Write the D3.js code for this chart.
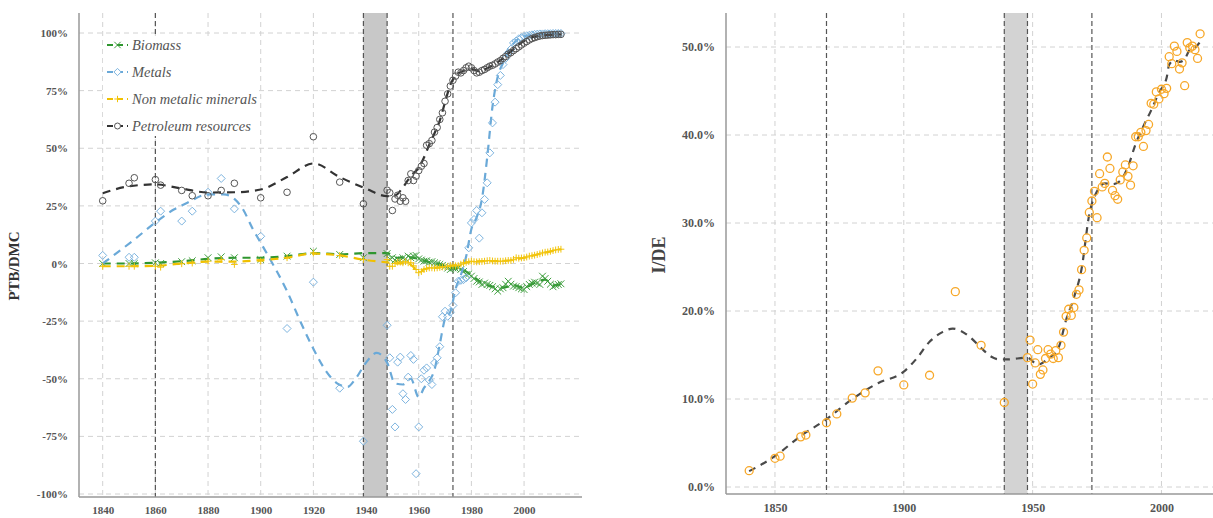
<!DOCTYPE html>
<html>
<head>
<meta charset="utf-8">
<script src="https://cdn.jsdelivr.net/npm/d3@7"></script>
<style>
  body { margin: 0; background: #fff; }
  text { font-family: "Liberation Serif", "DejaVu Serif", serif; }
</style>
</head>
<body>
<svg id="chart" width="1213" height="518"></svg>
<script>
// ---- data: left panel (PTB/DMC, %) ----
const yearsL = [1840,1850,1852,1860,1862,1870,1874,1880,1885,1890,1900,1910,1920,1930,1939,
  1948,1949,1950,1951,1952,1953,1954,1955,1956,1957,1958,1959,1960,1961,1962,1963,1964,1965,1966,1967,
  1968,1969,1970,1971,1972,1973,1974,1975,1976,1977,1978,1979,1980,1981,1982,1983,1984,1985,1986,1987,
  1988,1989,1990,1991,1992,1993,1994,1995,1996,1997,1998,1999,2000,2001,2002,2003,2004,2005,2006,2007,
  2008,2009,2010,2011,2012,2013,2014];

const biomass = [0,0,0,0.3,0,0.8,1.2,2.5,2.9,2.5,1.7,3.2,5.3,3.9,2.5,
  4.3,2,2.5,1.5,1.7,1.2,2.5,2,3.2,2.5,
  3.2,3.5,2,1.5,1,1.2,0.6,0.8,0.3,0,
  -0.4,-0.8,-1.2,-2,-2.6,-1.9,-2.2,-1.9,-2.6,-3.5,
  -4.8,-4.5,-5.5,-6.5,-7.7,-8,-9.1,-8.5,-9.1,-9.5,
  -10.1,-11,-12,-11,-10.5,-9,-7.7,-9,-9.8,-10,
  -10.5,-11,-11.3,-10,-9.1,-8.5,-8.1,-8.5,-9.1,-5.5,
  -6.5,-7.7,-9,-10.1,-9.5,-9.1,-8.8];

const metals = [3.5,2.7,2.7,18.4,22.7,18.4,22.7,30.9,36.9,23.7,11.8,-28.2,-8.1,-54.1,-77.1,
  -26.8,-40.9,-63.3,-70.9,-42.8,-40.6,-56.5,-59,-49.3,-39.9,
  -41.6,-91.2,-70.9,-50,-46.3,-45.3,-50.6,-52.5,-43.1,-40.9,
  -36.1,-23.1,-20.7,-22.9,-21.1,-18.2,-12.7,-7.7,-7.3,-7,
  -6.2,6.8,17.6,19.1,23,11,22,27.8,35,48,
  61,70,77.6,81.6,86.3,89,91.4,93,95.7,96.5,
  97.5,98,98.5,98.8,99,99.2,99.4,99.5,99.6,99.6,
  99.7,99.7,99.7,99.8,99.8,99.8,99.8];

const nonMetallic = [-1.2,-1.2,-1.2,-1.2,-1.6,-0.1,0.2,1,1.7,-0.4,1,2.5,4.6,3.5,1.7,
  1.7,-1.2,-1.2,0,0.6,0.6,0.3,0.8,0.3,0.3,
  -1,-2.6,-4,-3.5,-2.6,-2.2,-1.9,-1.9,-2,-1.9,
  -1.7,-1.5,-1.4,-1.2,-0.9,-0.9,-1,-0.9,-0.3,0.3,
  0.5,0.8,1,0.8,0.7,0.8,0.9,1,1.2,1.3,
  1.1,1,1,1,1,1.2,1.3,1.3,1.8,2.5,
  2.3,2.4,2.5,2.8,3.2,3.4,3.6,3.9,4.2,4.6,
  4.9,5,5.3,5.6,5.9,6.1,6.2];

const petroleum = [27.2,34.8,37.2,36.4,34,31.7,29.4,29.4,31.7,34.8,28.5,30.9,55,35.3,25.9,
  31.8,30.7,23,28,29.6,27,28.5,27,36,38.9,
  36,37.9,40.3,42.2,43.4,51.3,52,53.4,57,59,
  62.5,65.4,70.4,73.6,77,79.5,81.3,83,82.7,83.7,
  84.9,85.6,84.9,83.7,82.7,83,83.7,84.2,84.9,85.6,
  86,86.6,87.4,88,89,89.8,90.8,91.5,92.4,93.2,
  94,94.8,95.6,96.3,97,97.6,98,98.4,98.7,98.9,
  99,99.1,99.2,99.3,99.3,99.4,99.4];

// smoothed trend lines
const biomassTrendYears = [1840,1850,1860,1870,1880,1890,1900,1910,1920,1930,1940,1948,1952,1956,1960,1964,1968,1972,1976,1980,1984,1988,1992,1996,2000,2004,2008,2011,2014];
const biomassTrend = [0,0,0.3,1,2,2.5,2.5,3.2,4.5,4,4.5,4.5,2.5,2.8,2,0.6,-0.4,-2,-2.5,-5,-8.5,-10,-10.5,-9.5,-10.5,-8.5,-7,-9.5,-9];

const metalsTrendYears = [1840,1852,1860,1867,1872,1880,1886,1890,1893,1897,1900,1903,1910,1915,1920,1925,1929,1933,1936,1940,1944,1948,1951,1954,1957,1960,1962,1964,1966,1968,1970,1972,1974,1976,1978,1980,1982,1984,1986,1988,1990,1992,1994,1996,1998,2001,2005,2010,2014];
const metalsTrend = [0,10.4,17.8,23.4,26.3,30,30,28,24,15,9,3,-12,-25,-37,-47,-52,-53.5,-50,-43,-38.8,-43,-52,-52.5,-50,-58,-54,-51,-46,-35,-24,-21,-11,-5,3,15,20,28,46,68,81,87,92,95.5,97.5,98.8,99.5,99.7,99.8];

const nonMetallicTrendYears = [1840,1850,1860,1870,1880,1890,1900,1910,1920,1930,1940,1948,1952,1956,1960,1964,1968,1972,1976,1980,1985,1990,1995,2000,2005,2010,2014];
const nonMetallicTrend = [-1.2,-1.2,-1,0,0.8,0.8,1.5,2.5,4.3,3.5,1.5,0.5,0,0,-3,-2,-1.7,-1,-0.3,0.8,1,1,1.4,2.5,3.9,5.2,6.2];

const petroleumTrendYears = [1840,1850,1860,1870,1880,1890,1900,1910,1920,1930,1940,1948,1951,1954,1957,1960,1962,1964,1966,1968,1970,1972,1974,1977,1980,1983,1986,1989,1992,1995,1998,2001,2004,2007,2010,2014];
const petroleumTrend = [30.5,33.5,34.3,32.5,30.8,30.9,32.1,37.5,43.4,37.5,32.5,29.2,29.5,33,38,41.5,46,51.5,56.5,62,70,77.5,81.5,83.5,84.3,83.5,84.7,86.6,89,92,95,97.2,98.4,99,99.2,99.4];

// ---- data: right panel (I/DE, %) ----
const yearsR = [1840,1850,1852,1860,1862,1870,1874,1880,1885,1890,1900,1910,1920,1930,1939,
  1948,1949,1950,1951,1952,1953,1954,1955,1956,1957,1958,1959,1960,1961,1962,1963,1964,1965,1966,1967,
  1968,1969,1970,1971,1972,1973,1974,1975,1976,1977,1978,1979,1980,1981,1982,1983,1984,1985,1986,1987,
  1988,1989,1990,1991,1992,1993,1994,1995,1996,1997,1998,1999,2000,2001,2002,2003,2004,2005,2006,2007,
  2008,2009,2010,2011,2012,2013,2014,2015];
const ide = [1.85,3.26,3.5,5.7,5.9,7.3,8.3,10.1,10.7,13.2,11.6,12.7,22.2,16.1,9.6,
  14.7,16.7,11.7,14.1,15.6,12.8,13.3,14.6,15.6,15.1,
  14.6,15.5,14.7,16.1,17.6,19.4,20.2,19.5,20.4,21.9,
  22.4,24.7,26.9,28.3,31.2,32.5,33.6,30.6,35.6,34.1,
  34.5,37.5,36.2,33.7,33.1,32.7,34.9,35.8,36.6,35.3,
  34.3,36.5,39.8,39.8,40.3,38.7,40.5,41.2,43.6,43.5,
  44.9,44.1,45.2,44.7,45.3,48.9,48.1,50.1,49.5,47.5,
  48.2,45.6,50.5,49.9,50.1,49.7,48.7,51.5];
const ideTrendYears = [1840,1850,1860,1870,1880,1890,1900,1905,1910,1915,1919,1925,1930,1934,1937,1940,1948,1952,1956,1960,1963,1966,1969,1972,1975,1978,1981,1984,1987,1990,1993,1996,1999,2002,2003,2005,2007,2009,2011,2013,2015];
const ideTrend = [1.8,3.5,5.8,7.7,10,11.8,13.1,14.6,16.5,17.6,18,17.2,15.8,14.8,14.5,14.5,14.7,13.9,14.6,15.8,19,21.5,24.8,31,33.6,34.5,34.4,34.8,36.4,39,41,42.8,44.8,46.5,48,48.5,48.3,48.6,49.7,49.9,50.6];

// axis ticks and annotations
const ticksYL = [-100,-75,-50,-25,0,25,50,75,100];
const ticksXL = [1840,1860,1880,1900,1920,1940,1960,1980,2000];
const ticksYR = [0,10,20,30,40,50];
const ticksXR = [1850,1900,1950,2000];
const warYears = [1939, 1948];
const markLinesL = [1860, 1973];
const markLinesR = [1870, 1973];

// ---- drawing ----
const svg = d3.select("#chart");

const xL = d3.scaleLinear().domain([1831, 2022]).range([79, 582]);
const yL = d3.scaleLinear().domain([-100, 100]).range([494, 33]);
const xR = d3.scaleLinear().domain([1831, 2020]).range([726, 1213]);
const yR = d3.scaleLinear().domain([0, 50]).range([487, 47]);

const gridCol = "#d2d2d2", darkCol = "#555";

function panelFrame(g, x, y, top, bottom, right, xt, yt) {
  // light grid
  g.selectAll(".hg").data(yt).enter().append("line")
    .attr("x1", x.range()[0]).attr("x2", right)
    .attr("y1", d => y(d)).attr("y2", d => y(d))
    .attr("stroke", gridCol).attr("stroke-dasharray", "5,4");
  g.selectAll(".vg").data(xt).enter().append("line")
    .attr("x1", d => x(d)).attr("x2", d => x(d))
    .attr("y1", top).attr("y2", bottom)
    .attr("stroke", gridCol).attr("stroke-dasharray", "5,4");
}

function panelMarks(g, x, top, bottom, marks, shade) {
  g.append("rect")
    .attr("x", x(warYears[0])).attr("y", top)
    .attr("width", x(warYears[1]) - x(warYears[0])).attr("height", bottom - top)
    .attr("fill", shade);
  g.selectAll(".vd").data(marks.concat(warYears)).enter().append("line")
    .attr("x1", d => x(d)).attr("x2", d => x(d))
    .attr("y1", top).attr("y2", bottom)
    .attr("stroke", darkCol).attr("stroke-width", 1.2).attr("stroke-dasharray", "5,3");
}

function panelAxes(g, x, y, bottom, right, xt, yt, fmt, fs) {
  g.append("line").attr("x1", x.range()[0]).attr("x2", x.range()[0])
    .attr("y1", 13).attr("y2", bottom).attr("stroke", "#999").attr("stroke-width", 1.5);
  g.append("line").attr("x1", x.range()[0]).attr("x2", right)
    .attr("y1", bottom).attr("y2", bottom).attr("stroke", "#999").attr("stroke-width", 1.5);

  const ax = g.append("g").attr("transform", `translate(0,${bottom})`)
    .call(d3.axisBottom(x).tickValues(xt).tickSize(0).tickPadding(9).tickFormat(d3.format("d")));
  const ay = g.append("g").attr("transform", `translate(${x.range()[0]},0)`)
    .call(d3.axisLeft(y).tickValues(yt).tickSize(0).tickPadding(11).tickFormat(fmt));
  [ax, ay].forEach(a => {
    a.select(".domain").remove();
    a.selectAll("text")
      .style("font-family", '"Liberation Serif", serif')
      .style("font-weight", "bold").style("font-size", fs + "px").attr("fill", "#555");
  });
}

// symbol paths
const sym = {
  diamond: r => `M0,${-r}L${r},0L0,${r}L${-r},0Z`,
  cross: r => `M${-r},${-r}L${r},${r}M${-r},${r}L${r},${-r}`,
  plus: r => `M${-r},0L${r},0M0,${-r}L0,${r}`
};

// ===== left panel =====
const gL = svg.append("g");
panelFrame(gL, xL, yL, 13, 497, 582, ticksXL, ticksYL);
panelMarks(gL, xL, 13, 497, markLinesL, "#c8c8c8");
panelAxes(gL, xL, yL, 497, 582, ticksXL, ticksYL, d => d + "%", 11);

const seriesL = [
  { name: "Biomass", vals: biomass, ty: biomassTrendYears, tv: biomassTrend, line: "#2f962f", mark: "#3f9f3f", shape: "cross" },
  { name: "Metals", vals: metals, ty: metalsTrendYears, tv: metalsTrend, line: "#6aa9d8", mark: "#7db4df", shape: "diamond" },
  { name: "Non metalic minerals", vals: nonMetallic, ty: nonMetallicTrendYears, tv: nonMetallicTrend, line: "#f0c000", mark: "#f2c40c", shape: "plus" },
  { name: "Petroleum resources", vals: petroleum, ty: petroleumTrendYears, tv: petroleumTrend, line: "#333", mark: "#555", shape: "circle" }
];

const lineL = d3.line().x(d => xL(d[0])).y(d => yL(d[1])).curve(d3.curveMonotoneX);

function drawMarkers(g, s, x, y, years) {
  const pts = years.map((yr, i) => [yr, s.vals[i]]);
  if (s.shape === "circle") {
    g.selectAll(null).data(pts).enter().append("circle")
      .attr("cx", d => x(d[0])).attr("cy", d => y(d[1])).attr("r", 3.3)
      .attr("fill", "none").attr("stroke", s.mark).attr("stroke-width", 1);
  } else {
    const r = s.shape === "diamond" ? 4 : 3.4;
    g.selectAll(null).data(pts).enter().append("path")
      .attr("transform", d => `translate(${x(d[0])},${y(d[1])})`)
      .attr("d", sym[s.shape](r))
      .attr("fill", "none").attr("stroke", s.mark).attr("stroke-width", 1);
  }
}

seriesL.forEach(s => {
  gL.append("path")
    .datum(s.ty.map((yr, i) => [yr, s.tv[i]]))
    .attr("d", lineL)
    .attr("fill", "none").attr("stroke", s.line)
    .attr("stroke-width", 2.2).attr("stroke-dasharray", "8,6");
  drawMarkers(gL, s, xL, yL, yearsL);
});

// legend
const leg = gL.append("g");
leg.append("rect").attr("x", 103).attr("y", 36).attr("width", 156).attr("height", 100).attr("fill", "#fff");
seriesL.forEach((s, i) => {
  const ly = 45 + i * 27;
  leg.append("line").attr("x1", 107).attr("x2", 128).attr("y1", ly).attr("y2", ly)
    .attr("stroke", s.line).attr("stroke-width", 2).attr("stroke-dasharray", "6,4");
  const mg = leg.append("g");
  if (s.shape === "circle") {
    mg.append("circle").attr("cx", 117.5).attr("cy", ly).attr("r", 3)
      .attr("fill", "#fff").attr("stroke", s.mark);
  } else {
    mg.append("path").attr("transform", `translate(117.5,${ly})`)
      .attr("d", sym[s.shape](s.shape === "diamond" ? 3.6 : 3.2))
      .attr("fill", "#fff").attr("stroke", s.mark);
  }
  leg.append("text").attr("x", 132).attr("y", ly + 5)
    .text(s.name)
    .style("font-style", "italic").style("font-size", "14.5px").attr("fill", "#555");
});

svg.append("text")
  .attr("transform", "translate(19,266) rotate(-90)")
  .attr("text-anchor", "middle")
  .style("font-weight", "bold").style("font-size", "15px").attr("fill", "#333")
  .text("PTB/DMC");

// ===== right panel =====
const gR = svg.append("g");
panelFrame(gR, xR, yR, 13, 494, 1213, ticksXR, ticksYR);
panelMarks(gR, xR, 13, 494, markLinesR, "#d3d3d3");
panelAxes(gR, xR, yR, 494, 1213, ticksXR, ticksYR, d => d.toFixed(1) + "%", 12);

const lineR = d3.line().x(d => xR(d[0])).y(d => yR(d[1])).curve(d3.curveMonotoneX);

gR.append("path")
  .datum(ideTrendYears.map((yr, i) => [yr, ideTrend[i]]))
  .attr("d", lineR)
  .attr("fill", "none").attr("stroke", "#4a4a4a")
  .attr("stroke-width", 2.2).attr("stroke-dasharray", "7,6");

gR.selectAll(null).data(yearsR.map((yr, i) => [yr, ide[i]])).enter().append("circle")
  .attr("cx", d => xR(d[0])).attr("cy", d => yR(d[1])).attr("r", 4)
  .attr("fill", "none").attr("stroke", "#f7a829").attr("stroke-width", 1.3);

svg.append("text")
  .attr("transform", "translate(665,255) rotate(-90)")
  .attr("text-anchor", "middle")
  .style("font-weight", "bold").style("font-size", "18px").attr("fill", "#444")
  .text("I/DE");
</script>
</body>
</html>
